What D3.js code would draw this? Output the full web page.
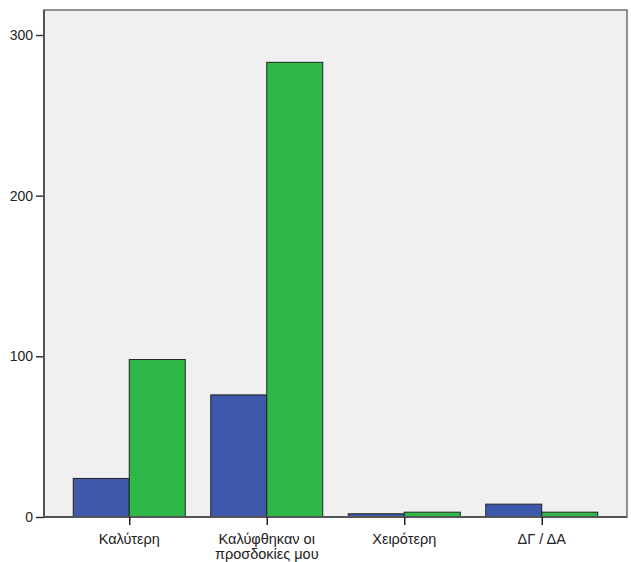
<!DOCTYPE html>
<html><head><meta charset="utf-8">
<script src="https://cdn.jsdelivr.net/npm/d3@7"></script>
<style>body{margin:0;background:#fff}svg{display:block}text{font-family:"Liberation Sans",Arial,sans-serif}</style>
</head><body><svg id="c" width="631" height="562"></svg>
<script>
const categories = ["Καλύτερη", "Καλύφθηκαν οι|προσδοκίες μου", "Χειρότερη", "ΔΓ / ΔΑ"];
const seriesA = [24, 76, 2, 8];
const seriesB = [98, 283, 3, 3];
const yTicks = [0, 100, 200, 300];
const colors = ["#3e58ac", "#2eb848"];

const svg = d3.select("#c");
const L = 44, R = 627, T = 10, B = 517;
const y = d3.scaleLinear().domain([0, 300]).range([B, 35]);
const x = d3.scalePoint().domain(d3.range(categories.length)).range([L, R]).padding(0.62);
const bw = 56;

svg.append("rect").attr("x", L).attr("y", T).attr("width", R - L).attr("height", B - T)
  .attr("fill", "#f0f0f0").attr("stroke", "#6e6e6e").attr("stroke-width", 1.5);

const g = svg.append("g");
[seriesA, seriesB].forEach((s, si) => {
  g.selectAll(null).data(s).enter().append("rect")
    .attr("x", (d, i) => x(i) + (si === 0 ? -bw : 0))
    .attr("y", d => y(d))
    .attr("width", bw)
    .attr("height", d => B - y(d))
    .attr("fill", colors[si]).attr("stroke", "#222").attr("stroke-width", 1);
});

// left axis
const ya = svg.append("g").attr("transform", `translate(${L},0)`)
  .call(d3.axisLeft(y).tickValues(yTicks).tickSize(8).tickPadding(3));
ya.select(".domain").remove();
ya.selectAll("line").attr("stroke", "#333").attr("stroke-width", 1.5);
ya.selectAll("text").attr("font-size", 14).attr("fill", "#222");
svg.append("line").attr("x1", L).attr("x2", L).attr("y1", T).attr("y2", B).attr("stroke", "#555").attr("stroke-width", 2);

// bottom axis
svg.append("line").attr("x1", L).attr("x2", R).attr("y1", B).attr("y2", B).attr("stroke", "#555").attr("stroke-width", 2);
const xa = svg.append("g").attr("transform", `translate(0,${B})`)
  .call(d3.axisBottom(x).tickSize(8).tickFormat(""));
xa.select(".domain").remove();
xa.selectAll("line").attr("stroke", "#222").attr("stroke-width", 1.5);
categories.forEach((c, i) => {
  const lines = c.split("|");
  const t = svg.append("text").attr("x", x(i)).attr("y", 544).attr("text-anchor", "middle")
    .attr("font-size", 14.5).attr("fill", "#222");
  lines.forEach((ln, j) => t.append("tspan").attr("x", x(i)).attr("dy", j === 0 ? 0 : 14.5).text(ln));
});
</script></body></html>
